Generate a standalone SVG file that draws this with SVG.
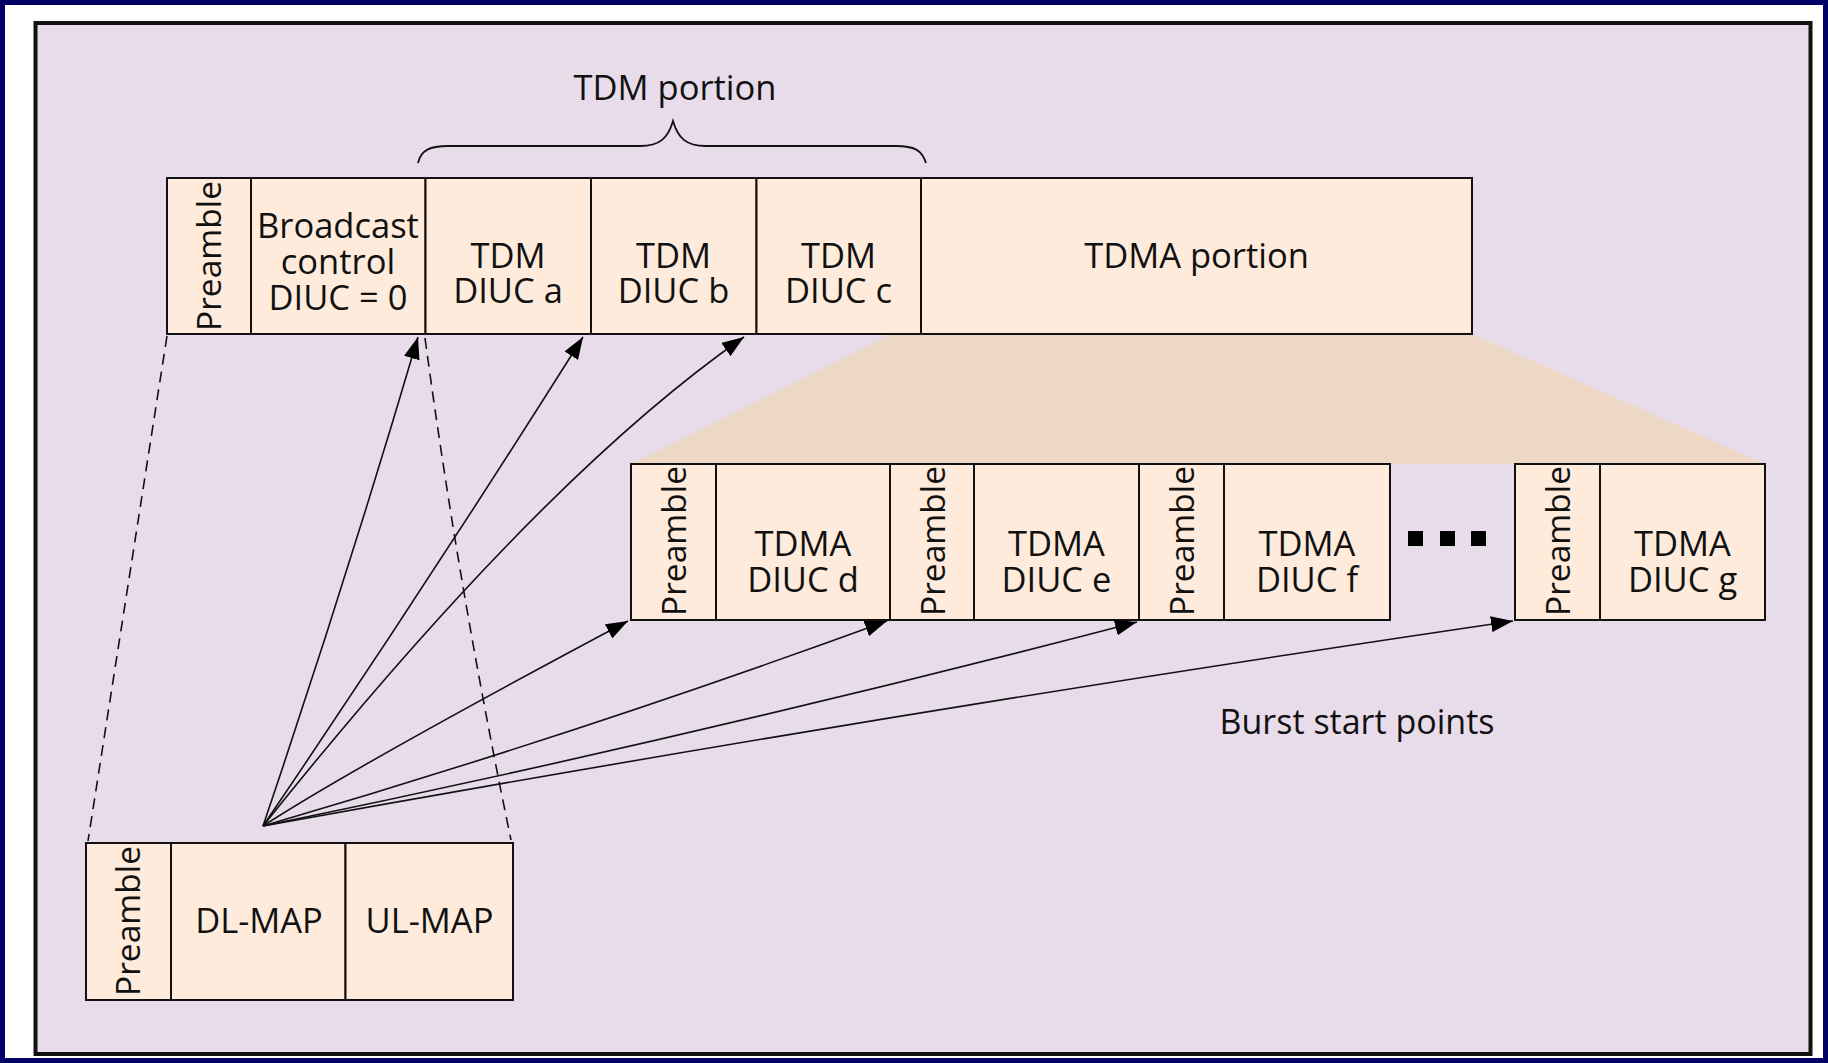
<svg xmlns="http://www.w3.org/2000/svg" width="1828" height="1063" viewBox="0 0 1828 1063">
<defs>
<style>
.cell{fill:#FEEBDB;stroke:#111;stroke-width:2}
.t{font-family:"Open Sans","Liberation Sans",sans-serif;font-size:34.5px;fill:#111;text-anchor:middle}
.pre{font-family:"Open Sans","Liberation Sans",sans-serif;font-size:33.5px;fill:#111;text-anchor:middle}
.arr{fill:none;stroke:#111;stroke-width:1.6;marker-end:url(#ah)}
.dash{fill:none;stroke:#111;stroke-width:1.6;stroke-dasharray:11 7}
</style>
<marker id="ah" markerWidth="22" markerHeight="16" refX="22" refY="8" orient="auto" markerUnits="userSpaceOnUse">
<path d="M0,0 L22,8 L0,16 z" fill="#000"/>
</marker>
</defs>
<rect x="0" y="0" width="1828" height="1063" fill="#000066"/>
<rect x="5" y="5" width="1818" height="1053" fill="#ffffff"/>
<rect id="frame" x="35.5" y="23" width="1775" height="1031" fill="#E8DCEB" stroke="#111" stroke-width="4"/>
<polygon id="zoom-area" points="890,334 1472,334 1765,464 631,464" fill="#EDD8C6"/>

<g id="tdm-label">
<text class="t" x="675" y="100">TDM portion</text>
<path d="M418,163 C421,150 430,146 448,146 L640,146 C660,146 668,138 673,121 C678,138 686,146 706,146 L896,146 C914,146 922,150 926,163" fill="none" stroke="#111" stroke-width="1.8"/>
</g>

<g id="top-preamble"><rect class="cell" x="167" y="178" width="84" height="156"/><text class="pre" transform="translate(221,256) rotate(-90)">Preamble</text></g>
<g id="broadcast"><rect class="cell" x="251" y="178" width="174.5" height="156"/><text class="t" x="338" y="238">Broadcast</text><text class="t" x="338" y="274">control</text><text class="t" x="338" y="310">DIUC = 0</text></g>
<g id="tdm-a"><rect class="cell" x="425.5" y="178" width="165.5" height="156"/><text class="t" x="508" y="268">TDM</text><text class="t" x="508" y="303">DIUC a</text></g>
<g id="tdm-b"><rect class="cell" x="591" y="178" width="165.5" height="156"/><text class="t" x="673.5" y="268">TDM</text><text class="t" x="673.5" y="303">DIUC b</text></g>
<g id="tdm-c"><rect class="cell" x="756.5" y="178" width="164.5" height="156"/><text class="t" x="838.5" y="268">TDM</text><text class="t" x="838.5" y="303">DIUC c</text></g>
<g id="tdma-portion"><rect class="cell" x="921" y="178" width="551" height="156"/><text class="t" x="1196.5" y="268">TDMA portion</text></g>

<g id="pre-d"><rect class="cell" x="631" y="464" width="85" height="156"/><text class="pre" transform="translate(686,541) rotate(-90)">Preamble</text></g>
<g id="tdma-d"><rect class="cell" x="716" y="464" width="174" height="156"/><text class="t" x="803" y="556">TDMA</text><text class="t" x="803" y="592">DIUC d</text></g>
<g id="pre-e"><rect class="cell" x="890" y="464" width="84" height="156"/><text class="pre" transform="translate(945,541) rotate(-90)">Preamble</text></g>
<g id="tdma-e"><rect class="cell" x="974" y="464" width="165" height="156"/><text class="t" x="1056.5" y="556">TDMA</text><text class="t" x="1056.5" y="592">DIUC e</text></g>
<g id="pre-f"><rect class="cell" x="1139" y="464" width="85" height="156"/><text class="pre" transform="translate(1194,541) rotate(-90)">Preamble</text></g>
<g id="tdma-f"><rect class="cell" x="1224" y="464" width="166" height="156"/><text class="t" x="1307" y="556">TDMA</text><text class="t" x="1307" y="592">DIUC f</text></g>
<g id="ellipsis" fill="#000"><rect x="1408" y="531" width="15" height="15"/><rect x="1440" y="531" width="15" height="15"/><rect x="1471" y="531" width="15" height="15"/></g>
<g id="pre-g"><rect class="cell" x="1515" y="464" width="85" height="156"/><text class="pre" transform="translate(1570,541) rotate(-90)">Preamble</text></g>
<g id="tdma-g"><rect class="cell" x="1600" y="464" width="165" height="156"/><text class="t" x="1682.5" y="556">TDMA</text><text class="t" x="1682.5" y="592">DIUC g</text></g>

<g id="bottom-preamble"><rect class="cell" x="86" y="843" width="85" height="157"/><text class="pre" transform="translate(140,921) rotate(-90)">Preamble</text></g>
<g id="dl-map"><rect class="cell" x="171" y="843" width="174.5" height="157"/><text class="t" x="259" y="933">DL-MAP</text></g>
<g id="ul-map"><rect class="cell" x="345.5" y="843" width="167.5" height="157"/><text class="t" x="429.5" y="933">UL-MAP</text></g>

<g id="burst-label"><text class="t" x="1357" y="734" style="font-size:34px">Burst start points</text></g>

<g id="connectors">
<path class="dash" d="M167,336 L88,841"/>
<path class="dash" d="M425,338 Q459,590 511,840"/>
<path class="arr" d="M263,826 Q346,581 418,337"/>
<path class="arr" d="M263,826 Q428,583 583,337"/>
<path class="arr" d="M263,826 Q540,479 744,337"/>
<path class="arr" d="M263,826 Q359,764 628,621"/>
<path class="arr" d="M263,826 Q575,735 887,621"/>
<path class="arr" d="M263,826 Q700,736 1137,622"/>
<path class="arr" d="M263,826 Q888,713 1513,621"/>
</g>
</svg>
